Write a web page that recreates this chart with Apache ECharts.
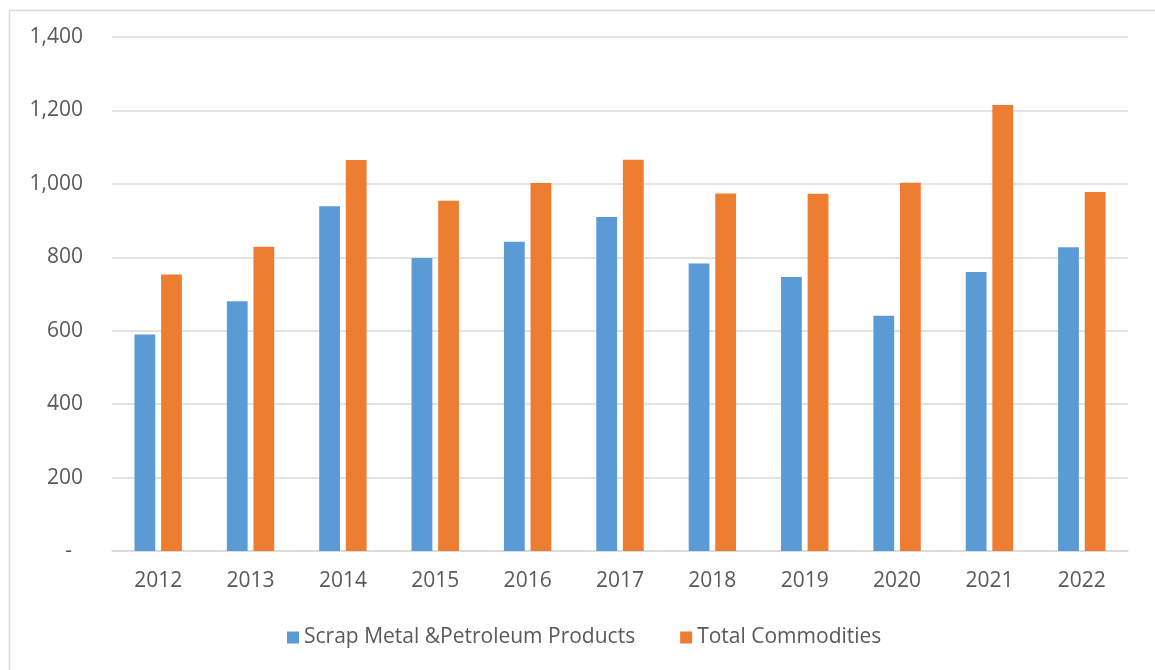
<!DOCTYPE html>
<html>
<head>
<meta charset="utf-8">
<script src="https://cdn.jsdelivr.net/npm/echarts@6/dist/echarts.min.js"></script>
<style>
html,body{margin:0;padding:0;background:#fff;}
#chart{width:1155px;height:670px;}
</style>
</head>
<body>
<div id="chart"></div>
<script>
const categories = ['2012','2013','2014','2015','2016','2017','2018','2019','2020','2021','2022'];
const scrapMetal = [590, 680, 939, 798, 842, 910, 783, 746, 641, 760, 827];
const totalCommodities = [753, 829, 1065, 954, 1002, 1066, 974, 973, 1003, 1215, 978];
const yTicks = [0, 200, 400, 600, 800, 1000, 1200, 1400];

const chart = echarts.init(document.getElementById('chart'));
const font = 'Open Sans';
const fs = 21;
chart.setOption({
  backgroundColor: '#fff',
  animation: false,
  graphic: [{
    type: 'rect', left: 7, top: 8,
    shape: {width: 1160, height: 680},
    style: {fill: 'none', stroke: '#d9d9d9', lineWidth: 1.5},
    silent: true
  }],
  grid: {left: 112, right: 27, top: 37, bottom: 119},
  legend: {
    left: 282, top: 622,
    itemWidth: 12, itemHeight: 12, itemGap: 45,
    icon: 'rect',
    textStyle: {color: '#595959', fontSize: fs, fontFamily: font},
    data: ['Scrap Metal &Petroleum Products', 'Total Commodities']
  },
  xAxis: {
    type: 'category',
    data: categories,
    axisLine: {lineStyle: {color: '#d9d9d9', width: 1.5}},
    axisTick: {show: false},
    axisLabel: {color: '#595959', fontSize: fs, fontFamily: font, margin: 20}
  },
  yAxis: {
    type: 'value',
    min: yTicks[0], max: yTicks[yTicks.length - 1], interval: 200,
    axisLine: {show: false},
    axisTick: {show: false},
    splitLine: {lineStyle: {color: '#d9d9d9', width: 1.5}},
    axisLabel: {
      color: '#595959', fontSize: fs, fontFamily: font, margin: 29,
      formatter: function (v) {
        if (v === 0) return '{d|-}';
        return v.toLocaleString('en-US');
      },
      rich: {d: {color: '#595959', fontSize: fs, fontFamily: font, padding: [0, 11, 0, 0]}}
    }
  },
  series: [
    {
      name: 'Scrap Metal &Petroleum Products',
      type: 'bar',
      data: scrapMetal,
      barWidth: '22.5%',
      barGap: '28%',
      itemStyle: {color: '#5B9BD5'}
    },
    {
      name: 'Total Commodities',
      type: 'bar',
      data: totalCommodities,
      barWidth: '22.5%',
      barGap: '28%',
      itemStyle: {color: '#ED7D31'}
    }
  ]
});
</script>
</body>
</html>
